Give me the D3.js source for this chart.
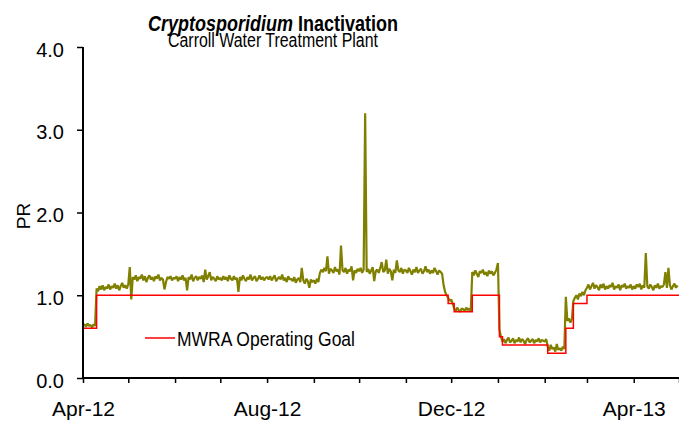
<!DOCTYPE html>
<html>
<head>
<meta charset="utf-8">
<script src="https://cdnjs.cloudflare.com/ajax/libs/d3/7.8.5/d3.min.js"></script>
<style>
  body { margin: 0; background: #fff; }
  text { font-family: "Liberation Sans", Arial, sans-serif; fill: #000; }
</style>
</head>
<body>
<div id="chart"></div>
<script>
// daily PR readings, starting Apr 1, 2012 (one row per month)
var startDay = "2012-04-01";
var pr = [
  // Apr-12
  0.63,0.65,0.62,0.66,0.63,0.64,0.61,0.65,0.63,
  1.08,1.05,1.11,1.07,1.12,1.06,1.10,1.08,1.13,1.07,1.11,1.09,1.14,1.08,1.12,1.06,1.11,1.15,1.09,1.12,1.08,
  // May-12
  1.13,1.34,0.95,1.22,1.19,1.24,1.17,1.22,1.20,1.25,1.18,1.23,1.16,1.21,1.24,1.19,1.22,1.17,1.23,1.20,1.25,1.18,1.21,1.19,1.07,1.16,1.22,1.20,1.23,1.18,1.21,
  // Jun-12
  1.20,1.23,1.17,1.22,1.19,1.24,1.18,1.21,1.06,1.22,1.19,1.25,1.17,1.21,1.23,1.18,1.22,1.20,1.24,1.16,1.31,1.19,1.23,1.28,1.18,1.22,1.20,1.17,1.23,1.19,
  // Jul-12
  1.21,1.18,1.23,1.19,1.22,1.17,1.24,1.20,1.18,1.23,1.19,1.21,1.04,1.22,1.18,1.24,1.20,1.17,1.22,1.19,1.25,1.18,1.21,1.23,1.17,1.20,1.24,1.19,1.22,1.18,1.21,
  // Aug-12
  1.22,1.19,1.23,1.18,1.21,1.24,1.17,1.20,1.22,1.19,1.25,1.18,1.21,1.16,1.23,1.19,1.20,1.17,1.22,1.15,1.19,1.21,1.16,1.33,1.18,1.14,1.20,1.17,1.09,1.19,1.16,
  // Sep-12
  1.18,1.14,1.20,1.16,1.27,1.31,1.28,1.33,1.29,1.47,1.26,1.32,1.30,1.27,1.34,1.29,1.31,1.25,1.60,1.30,1.28,1.33,1.26,1.31,1.29,1.35,1.18,1.30,1.27,1.32,
  // Oct-12
  1.29,1.33,1.27,1.31,3.20,1.28,1.32,1.26,1.30,1.34,1.17,1.29,1.31,1.27,1.33,1.40,1.28,1.30,1.43,1.26,1.32,1.29,1.18,1.31,1.27,1.42,1.30,1.28,1.33,1.26,1.31,
  // Nov-12
  1.30,1.27,1.33,1.29,1.25,1.31,1.28,1.34,1.27,1.30,1.32,1.26,1.29,1.35,1.28,1.31,1.26,1.30,1.27,1.33,1.29,1.25,1.30,1.28,1.26,1.12,1.04,1.00,0.97,0.93,
  // Dec-12
  0.95,0.90,0.84,0.81,0.85,0.82,0.80,0.84,0.83,0.81,0.85,0.82,0.84,0.81,
  1.28,1.24,1.30,1.26,1.22,1.29,1.27,1.31,1.25,1.28,1.23,1.30,1.26,1.29,1.24,1.27,1.31,
  // Jan-13
  1.39,0.58,0.50,0.44,0.47,0.42,0.46,0.49,0.43,0.45,0.48,0.42,0.46,0.44,0.49,0.43,0.47,0.45,0.41,0.46,0.48,0.43,0.45,0.47,0.42,0.46,0.44,0.48,0.43,0.46,0.45,
  // Feb-13
  0.44,0.47,0.38,0.33,0.40,0.35,0.37,0.32,0.41,0.34,0.36,0.33,0.38,0.35,0.98,0.69,0.72,0.67,0.71,0.93,0.97,1.00,0.95,1.02,0.99,1.04,1.00,1.06,
  // Mar-13
  1.09,1.13,1.07,1.11,1.15,1.08,1.12,1.10,1.06,1.13,1.09,1.14,1.07,1.11,1.08,1.12,1.10,1.15,1.07,1.11,1.09,1.13,1.06,1.12,1.10,1.14,1.08,1.11,1.09,1.13,1.07,
  // Apr-13
  1.11,1.08,1.13,1.10,1.14,1.07,1.12,1.09,1.51,1.11,1.08,1.13,1.10,1.06,1.12,1.09,1.14,1.08,1.11,1.10,1.13,1.28,1.09,1.33,1.12,1.07,1.11,1.14,1.09,1.12
];

// MWRA operating goal, step changes
var goalDates = ["2012-04-01","2012-04-10","2012-11-29","2012-12-03","2012-12-15","2013-01-02",
                 "2013-01-04","2013-02-03","2013-02-15","2013-02-20","2013-03-01","2013-05-01"];
var goalValues = [0.6, 1.0, 0.9, 0.8, 1.0, 0.5, 0.4, 0.3, 0.6, 0.9, 1.0, 1.0];

var yTicks = [0, 1, 2, 3, 4];
var xLabels = ["Apr-12", "Aug-12", "Dec-12", "Apr-13"];

var w = 679, h = 422;
var plotLeft = 83, plotRight = 679, plotTop = 47, plotBottom = 378;

var parse = d3.timeParse("%Y-%m-%d");
var start = parse(startDay);

var svg = d3.select("#chart").append("svg")
  .attr("width", w)
  .attr("height", h);

var x = d3.scaleTime()
  .domain([start, parse("2013-05-01")])
  .range([plotLeft, plotRight]);

var y = d3.scaleLinear()
  .domain([0, 4])
  .range([plotBottom, plotTop]);

// title
var title = svg.append("text")
  .attr("x", 273)
  .attr("y", 31)
  .attr("text-anchor", "middle")
  .attr("font-size", 22.5)
  .attr("font-weight", "bold")
  .attr("textLength", 250)
  .attr("lengthAdjust", "spacingAndGlyphs");
title.append("tspan").attr("font-style", "italic").text("Cryptosporidium");
title.append("tspan").text(" Inactivation");

svg.append("text")
  .attr("x", 273)
  .attr("y", 47)
  .attr("text-anchor", "middle")
  .attr("font-size", 19.5)
  .attr("textLength", 210)
  .attr("lengthAdjust", "spacingAndGlyphs")
  .text("Carroll Water Treatment Plant");

// data line
var prData = pr.map(function (d, i) {
  return { date: d3.timeDay.offset(start, i), value: d };
});

var prLine = d3.line()
  .x(function (d) { return x(d.date); })
  .y(function (d) { return y(d.value); });

svg.append("path")
  .datum(prData)
  .attr("fill", "none")
  .attr("stroke", "#808000")
  .attr("stroke-width", 2.2)
  .attr("stroke-linejoin", "bevel")
  .attr("d", prLine);

// goal step line
var goalData = goalDates.map(function (d, i) {
  return { date: parse(d), value: goalValues[i] };
});

var goalLine = d3.line()
  .curve(d3.curveStepAfter)
  .x(function (d) { return x(d.date); })
  .y(function (d) { return y(d.value); });

svg.append("path")
  .datum(goalData)
  .attr("fill", "none")
  .attr("stroke", "#ff0000")
  .attr("stroke-width", 1.5)
  .attr("d", goalLine);

// y axis
var yAxis = svg.append("g")
  .attr("transform", "translate(" + plotLeft + ",0)")
  .call(d3.axisLeft(y).tickValues(yTicks).tickSize(6).tickPadding(13)
    .tickFormat(d3.format(".1f")));
yAxis.select(".domain").attr("stroke-width", 2).attr("d", "M0," + plotTop + "V" + plotBottom);
yAxis.selectAll(".tick line").attr("stroke-width", 1.5);
yAxis.selectAll(".tick text")
  .attr("font-size", 20)
  .attr("dy", "0.45em")
  .attr("font-family", "Liberation Sans, Arial, sans-serif");

svg.append("text")
  .attr("transform", "translate(30,216) rotate(-90)")
  .attr("text-anchor", "middle")
  .attr("font-size", 19)
  .text("PR");

// x axis
var months = d3.timeMonth.range(start, parse("2013-05-02"));
var xAxis = svg.append("g")
  .attr("transform", "translate(0," + plotBottom + ")")
  .call(d3.axisBottom(x).tickValues(months).tickSize(5).tickPadding(18)
    .tickFormat(function (d) {
      var s = d3.timeFormat("%b-%y")(d);
      return xLabels.indexOf(s) >= 0 ? s : "";
    }));
xAxis.select(".domain").attr("stroke-width", 2).attr("d", "M" + plotLeft + ",0H" + plotRight);
xAxis.selectAll(".tick line").attr("stroke-width", 1.5);
xAxis.selectAll(".tick text")
  .attr("font-size", 21)
  .attr("font-family", "Liberation Sans, Arial, sans-serif");

// legend
svg.append("line")
  .attr("x1", 145).attr("x2", 175)
  .attr("y1", 338).attr("y2", 338)
  .attr("stroke", "#ff0000")
  .attr("stroke-width", 1.5);

svg.append("text")
  .attr("x", 177)
  .attr("y", 346)
  .attr("font-size", 20.5)
  .attr("textLength", 178)
  .attr("lengthAdjust", "spacingAndGlyphs")
  .text("MWRA Operating Goal");
</script>
</body>
</html>
